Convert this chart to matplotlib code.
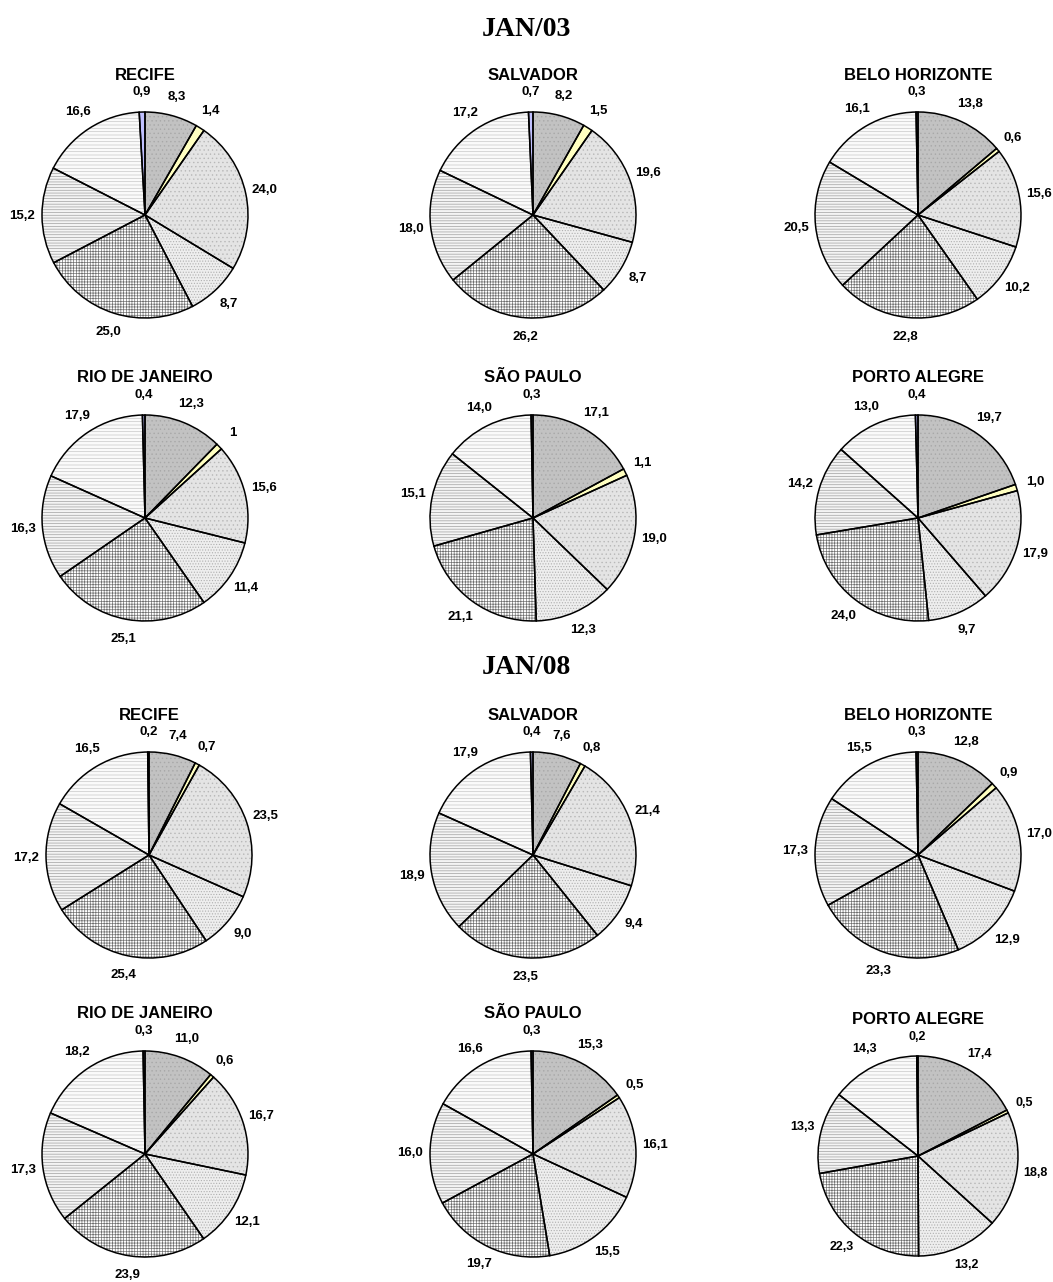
import numpy as np
import matplotlib
matplotlib.use("Agg")
import matplotlib.pyplot as plt

plt.rcParams['hatch.linewidth'] = 0.5

W, H = 1053, 1282

cities = ["RECIFE", "SALVADOR", "BELO HORIZONTE",
          "RIO DE JANEIRO", "SÃO PAULO", "PORTO ALEGRE"]

# shares per city, clockwise from 12 o'clock, as printed on the labels
jan03 = [
    ["8,3", "1,4", "24,0", "8,7", "25,0", "15,2", "16,6", "0,9"],
    ["8,2", "1,5", "19,6", "8,7", "26,2", "18,0", "17,2", "0,7"],
    ["13,8", "0,6", "15,6", "10,2", "22,8", "20,5", "16,1", "0,3"],
    ["12,3", "1", "15,6", "11,4", "25,1", "16,3", "17,9", "0,4"],
    ["17,1", "1,1", "19,0", "12,3", "21,1", "15,1", "14,0", "0,3"],
    ["19,7", "1,0", "17,9", "9,7", "24,0", "14,2", "13,0", "0,4"],
]
jan08 = [
    ["7,4", "0,7", "23,5", "9,0", "25,4", "17,2", "16,5", "0,2"],
    ["7,6", "0,8", "21,4", "9,4", "23,5", "18,9", "17,9", "0,4"],
    ["12,8", "0,9", "17,0", "12,9", "23,3", "17,3", "15,5", "0,3"],
    ["11,0", "0,6", "16,7", "12,1", "23,9", "17,3", "18,2", "0,3"],
    ["15,3", "0,5", "16,1", "15,5", "19,7", "16,0", "16,6", "0,3"],
    ["17,4", "0,5", "18,8", "13,2", "22,3", "13,3", "14,3", "0,2"],
]

faces = ['#c2c2c2', '#ffffc0', '#e4e4e4', '#eeeeee',
         '#ffffff', '#f4f4f4', '#fafafa', '#c0c0ff']
hatches = ['....', None, '....', '......', '++++++', '------', '-----', None]
hatch_cols = ['#a8a8a8', '#ffffc0', '#b8b8b8', '#b0b0b0',
              '#707070', '#a0a0a0', '#c8c8c8', '#c0c0ff']

fig = plt.figure(figsize=(W / 100, H / 100), dpi=100)


def draw_pie(cx, cy, r, title, labels, fs=9.5):
    vals = [float(s.replace(',', '.')) for s in labels]
    half = 135
    ax = fig.add_axes([(cx - half) / W, 1 - (cy + half) / H, 2 * half / W, 2 * half / H])
    lim = half / r
    ax.set_aspect('equal')
    ax.axis('off')
    # textured fill
    wedges, _ = ax.pie(vals, startangle=90, counterclock=False, radius=1,
                       wedgeprops=dict(linewidth=0))
    for w, fc, h, hc in zip(wedges, faces, hatches, hatch_cols):
        w.set_facecolor(fc)
        w.set_edgecolor(hc)
        if h:
            w.set_hatch(h)
    # outlines and value labels
    ax.pie(vals, startangle=90, counterclock=False, radius=1,
           labels=labels, labeldistance=1.19,
           wedgeprops=dict(facecolor='none', edgecolor='black', linewidth=1.1),
           textprops=dict(fontsize=fs, fontweight='bold', family='Liberation Sans',
                          va='center'))
    for t in ax.texts:
        t.set_ha('center')
    ax.set_xlim(-lim, lim)
    ax.set_ylim(-lim, lim)
    fig.text(cx / W, 1 - (cy - r - 37) / H, title, ha='center', va='center',
             fontsize=12, fontweight='bold', family='Liberation Sans')


cols = [145, 533, 918]
rows_03 = [215, 518]
rows_08 = [855, 1154]

for i in range(6):
    draw_pie(cols[i % 3], rows_03[i // 3], 103, cities[i], jan03[i])
for i in range(6):
    if i == 0:
        draw_pie(149, rows_08[0], 103, cities[i], jan08[i])
    elif i == 5:
        draw_pie(cols[2], 1156, 100, cities[i], jan08[i], 9)
    else:
        draw_pie(cols[i % 3], rows_08[i // 3], 103, cities[i], jan08[i])

fig.text(0.5, 1 - 30 / H, "JAN/03", ha='center', va='center', fontsize=20,
         fontweight='bold', family='Liberation Serif')
fig.text(0.5, 1 - 668 / H, "JAN/08", ha='center', va='center', fontsize=20,
         fontweight='bold', family='Liberation Serif')

fig.savefig("out.png", dpi=100, facecolor='white')
